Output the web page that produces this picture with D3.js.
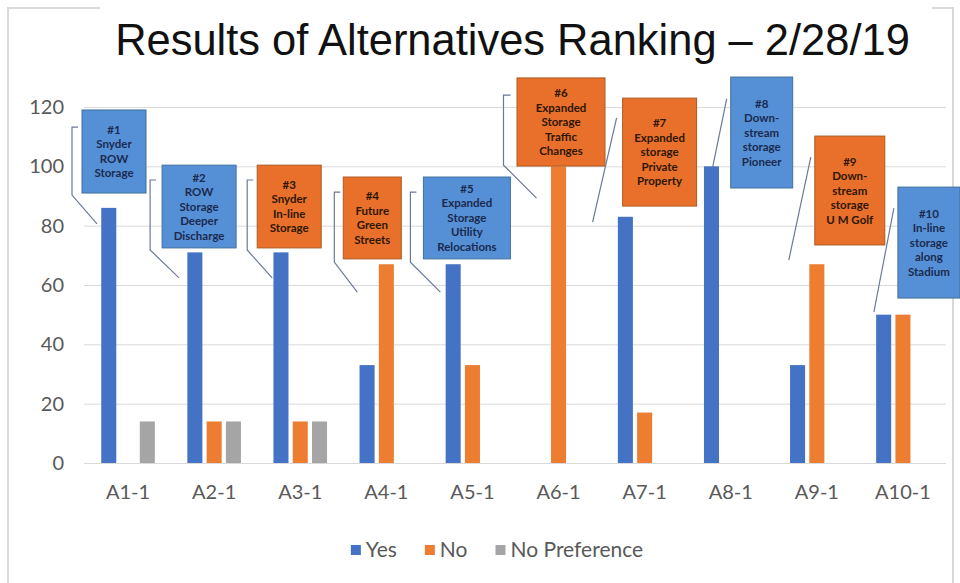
<!DOCTYPE html>
<meta charset="utf-8">
<style>
body { margin: 0; background: #fff; }
text { font-family: Lato, "Open Sans", sans-serif; }
.title { font-family: "Liberation Sans", Arial, sans-serif; fill: #111; }
.axis text { fill: #595959; font-size: 20px; }
.grid line { stroke: #d9d9d9; stroke-width: 1; }
.grid text { display: none; }
.callout text { font-weight: bold; font-size: 11.5px; }
.leader { fill: none; stroke: #6b7a99; stroke-width: 1.2; }
.legend text { fill: #595959; font-size: 21px; }
</style>
<svg width="960" height="583"></svg>
<script src="https://d3js.org/d3.v7.min.js"></script>
<script>
// chart values
var categories = ["A1-1", "A2-1", "A3-1", "A4-1", "A5-1", "A6-1", "A7-1", "A8-1", "A9-1", "A10-1"];
var series = ["Yes", "No", "No Preference"];
var yesVotes    = [86, 71, 71, 33, 67, 0, 83, 100, 33, 50];
var noVotes     = [0, 14, 14, 67, 33, 100, 17, 0, 67, 50];
var noPrefVotes = [14, 14, 14, 0, 0, 0, 0, 0, 0, 0];
var yTicks = [0, 20, 40, 60, 80, 100, 120];
var titleText = "Results of Alternatives Ranking \u2013 2/28/19";

// callout labels, one per alternative, and which series colour the box takes
var calloutLabels = [
  ["#1", "Snyder", "ROW", "Storage"],
  ["#2", "ROW", "Storage", "Deeper", "Discharge"],
  ["#3", "Snyder", "In-line", "Storage"],
  ["#4", "Future", "Green", "Streets"],
  ["#5", "Expanded", "Storage", "Utility", "Relocations"],
  ["#6", "Expanded", "Storage", "Traffic", "Changes"],
  ["#7", "Expanded", "storage", "Private", "Property"],
  ["#8", "Down-", "stream", "storage", "Pioneer"],
  ["#9", "Down-", "stream", "storage", "U M Golf"],
  ["#10", "In-line", "storage", "along", "Stadium"]
];
var calloutKind = ["Yes", "Yes", "No", "No", "Yes", "No", "No", "Yes", "No", "Yes"];

// callout placement: dx/w in px from the category band start, top/bottom in axis units
var boxLayout = [
  {dx: -3,  w: 64, top: 119,   bottom: 91},
  {dx: -9,  w: 74, top: 100.4, bottom: 72.5},
  {dx: 0,   w: 64, top: 100.4, bottom: 72.5},
  {dx: 0,   w: 58, top: 96.4,  bottom: 68.8},
  {dx: -6,  w: 87, top: 96.4,  bottom: 68.8},
  {dx: 1.5, w: 88, top: 129.8, bottom: 100.1},
  {dx: 21,  w: 74, top: 123,   bottom: 86.6},
  {dx: 43,  w: 62, top: 130.1, bottom: 92.7},
  {dx: 41,  w: 70, top: 110.2, bottom: 73.5},
  {dx: 38,  w: 62, top: 93,    bottom: 55.6}
];
var leaderLayout = [
  [[-7, 113.2], [-13, 113.2], [-13, 90.3], [12, 80.6]],
  [[-15, 95.4], [-21, 95.4], [-21, 71.8], [8, 62.4]],
  [[-4, 95.4], [-10, 95.4], [-10, 71.8], [15, 62.4]],
  [[-3, 91.3], [-9, 91.3], [-9, 67.7], [14, 57.6]],
  [[-13, 91.3], [-19, 91.3], [-19, 67.7], [11, 57.6]],
  [[-5, 124], [-12, 124], [-12, 100.4], [21, 89.3]],
  [[-9, 81.2], [15, 116.3]],
  [[25, 99.8], [39, 122.7]],
  [[15, 68.4], [37, 103.1]],
  [[14, 50.9], [34, 85.9]]
];

var color = d3.scaleOrdinal().domain(series).range(["#4472c4", "#ed7d31", "#a5a5a5"]);
var boxFill = {Yes: "#5590d6", No: "#e8702a"};
var boxStroke = {Yes: "#41719c", No: "#ae5a21"};
var boxText = {Yes: "#1b2a4e", No: "#2e1604"};

var svg = d3.select("svg");

// chart-area frame
svg.append("rect")
  .attr("x", 8).attr("y", 8).attr("width", 945).attr("height", 600)
  .attr("fill", "none").attr("stroke", "#d9d9d9").attr("stroke-width", 2);
svg.append("rect")
  .attr("x", 100).attr("y", 0).attr("width", 832).attr("height", 20)
  .attr("fill", "#fff");

var x = d3.scaleBand().domain(categories).range([85, 946]);
var xSub = d3.scaleBand().domain(series).range([-26.8, 26.8]).paddingInner(0.22);
var y = d3.scaleLinear().domain([0, 120]).range([463, 107]);

// gridlines
svg.append("g")
  .attr("class", "grid")
  .attr("transform", "translate(84,0)")
  .call(d3.axisLeft(y).tickValues(yTicks).tickSize(-(946 - 84)).tickFormat(""))
  .select(".domain").remove();

// y axis labels
svg.append("g")
  .attr("class", "axis")
  .attr("transform", "translate(84,0)")
  .call(d3.axisLeft(y).tickValues(yTicks).tickSize(0).tickPadding(20))
  .call(g => g.select(".domain").remove());

// x axis labels
svg.append("g")
  .attr("class", "axis")
  .attr("transform", "translate(0," + y(0) + ")")
  .call(d3.axisBottom(x).tickSize(0).tickPadding(22))
  .call(g => g.select(".domain").remove());

// bars
var rows = categories.map(function(c, i) {
  return {cat: c, values: [
    {key: "Yes", value: yesVotes[i]},
    {key: "No", value: noVotes[i]},
    {key: "No Preference", value: noPrefVotes[i]}
  ]};
});

svg.append("g")
  .selectAll("g")
  .data(rows)
  .enter().append("g")
    .attr("transform", d => "translate(" + (x(d.cat) + x.bandwidth() / 2) + ",0)")
  .selectAll("rect")
  .data(d => d.values.filter(v => v.value > 0))
  .enter().append("rect")
    .attr("x", d => xSub(d.key))
    .attr("width", xSub.bandwidth())
    .attr("y", d => y(d.value))
    .attr("height", d => y(0) - y(d.value))
    .attr("fill", d => color(d.key));

// callouts
var callouts = svg.append("g").attr("class", "callout")
  .selectAll("g")
  .data(categories.map(function(c, i) {
    return {cat: c, lines: calloutLabels[i], kind: calloutKind[i], box: boxLayout[i], leader: leaderLayout[i]};
  }))
  .enter().append("g");

var line = d3.line();
callouts.append("path")
  .attr("class", "leader")
  .attr("d", d => line(d.leader.map(p => [x(d.cat) + p[0], y(p[1])])));

callouts.append("rect")
  .attr("x", d => x(d.cat) + d.box.dx)
  .attr("y", d => y(d.box.top))
  .attr("width", d => d.box.w)
  .attr("height", d => y(d.box.bottom) - y(d.box.top))
  .attr("fill", d => boxFill[d.kind])
  .attr("stroke", d => boxStroke[d.kind])
  .attr("stroke-width", 1);

callouts.each(function(d) {
  var cx = x(d.cat) + d.box.dx + d.box.w / 2;
  var cy = (y(d.box.top) + y(d.box.bottom)) / 2;
  var lh = 14.5;
  var t = d3.select(this).append("text")
    .attr("text-anchor", "middle")
    .attr("fill", boxText[d.kind]);
  d.lines.forEach(function(s, k) {
    t.append("tspan")
      .attr("x", cx)
      .attr("y", cy + (k - (d.lines.length - 1) / 2) * lh)
      .attr("dy", "0.35em")
      .text(s);
  });
});

// title
var title = svg.append("text")
  .attr("class", "title")
  .attr("x", 512.5)
  .attr("y", 55)
  .attr("text-anchor", "middle")
  .style("font-size", "42px")
  .text(titleText);
var tw = title.node().getComputedTextLength();
title.style("font-size", (42 * 795 / tw) + "px");

// legend
var legend = svg.append("g").attr("class", "legend");
var lx = 0;
series.forEach(function(s) {
  var item = legend.append("g").attr("transform", "translate(" + lx + ",0)");
  item.append("rect").attr("x", 0).attr("y", -5).attr("width", 10).attr("height", 10).attr("fill", color(s));
  var t = item.append("text").attr("x", 15).attr("y", 0).attr("dy", "0.35em").text(s);
  lx += 15 + t.node().getComputedTextLength() + 28;
});
lx -= 28;
legend.attr("transform", "translate(" + (497 - lx / 2) + ",550)");
</script>
